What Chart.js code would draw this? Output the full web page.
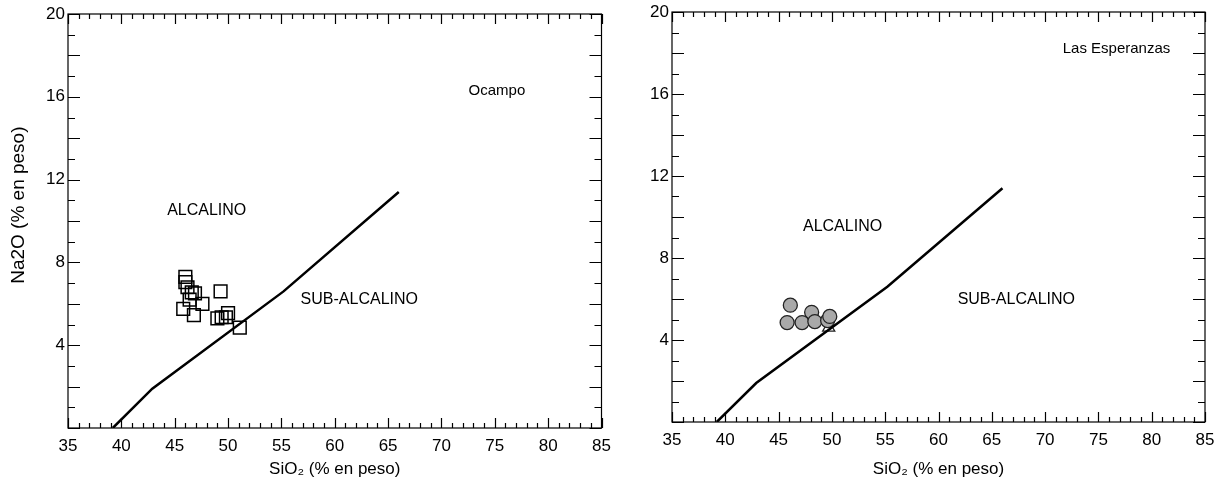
<!DOCTYPE html>
<html>
<head>
<meta charset="utf-8">
<script src="https://cdn.jsdelivr.net/npm/chart.js@4.4.0/dist/chart.umd.min.js"></script>
<style>
  html,body{margin:0;padding:0;background:#fff;}
  #wrap{position:relative;width:1223px;height:480px;}
  .c{position:absolute;top:0;height:480px;}
</style>
</head>
<body>
<div id="wrap">
  <div class="c" style="left:0;width:612px;"><canvas id="left"></canvas></div>
  <div class="c" style="left:612px;width:611px;"><canvas id="right"></canvas></div>
</div>
<script>
// ---- data ----
const boundarySiO2 = [39.2, 42.9, 55.2, 66.0];
const boundaryNa2O = [0.0, 1.9, 6.6, 11.4];

const ocampoSiO2 = [46.0, 46.0, 46.2, 46.6, 49.3, 46.9, 46.4, 47.6, 45.8, 46.8, 50.0, 49.0, 49.4, 49.8, 51.1];
const ocampoNa2O = [7.3, 7.05, 6.8, 6.55, 6.6, 6.5, 6.2, 6.0, 5.75, 5.45, 5.55, 5.3, 5.35, 5.35, 4.85];

const esperanzasSiO2 = [46.1, 48.1, 45.8, 47.2, 48.4, 49.6, 49.8];
const esperanzasNa2O = [5.7, 5.35, 4.85, 4.85, 4.9, 4.95, 5.15];
const esperanzasTriSiO2 = [49.7];
const esperanzasTriNa2O = [4.6];

const xTickValues = [35, 40, 45, 50, 55, 60, 65, 70, 75, 80, 85];
const yTickValues = [4, 8, 12, 16, 20];

const FONT = '"Liberation Sans", Arial, sans-serif';
const pts = (xs, ys) => xs.map((x, i) => ({x: x, y: ys[i]}));

const boxTicks = {
  id: 'boxTicks',
  afterDatasetsDraw(chart) {
    const {ctx, chartArea: a, scales: {x, y}} = chart;
    ctx.save();
    ctx.strokeStyle = '#000';
    ctx.lineWidth = 1.2;
    ctx.strokeRect(a.left, a.top, a.right - a.left, a.bottom - a.top);
    ctx.beginPath();
    for (let v = 35; v <= 85; v++) {
      const px = Math.round(x.getPixelForValue(v)) + 0.5;
      const len = v % 5 === 0 ? 10 : 5;
      ctx.moveTo(px, a.bottom); ctx.lineTo(px, a.bottom - len);
      ctx.moveTo(px, a.top); ctx.lineTo(px, a.top + len);
    }
    for (let v = 0; v <= 20; v++) {
      const py = Math.round(y.getPixelForValue(v)) + 0.5;
      const len = v % 2 === 0 ? 12 : 7;
      ctx.moveTo(a.left, py); ctx.lineTo(a.left + len, py);
      ctx.moveTo(a.right, py); ctx.lineTo(a.right - len, py);
    }
    ctx.stroke();
    // text annotations
    const notes = chart.options.plugins.boxTicks.notes || [];
    ctx.fillStyle = '#000';
    ctx.textAlign = 'center';
    ctx.textBaseline = 'middle';
    notes.forEach(n => {
      ctx.font = n.size + 'px ' + FONT;
      ctx.fillText(n.text, x.getPixelForValue(n.x), y.getPixelForValue(n.y));
    });
    ctx.restore();
  }
};

function makeChart(id, datasets, opts) {
  return new Chart(document.getElementById(id), {
    type: 'scatter',
    data: {datasets: datasets},
    options: {
      responsive: true,
      maintainAspectRatio: false,
      animation: false,
      layout: {padding: {top: opts.top, right: opts.right, left: 0, bottom: 0}},
      plugins: {legend: {display: false}, tooltip: {enabled: false}, boxTicks: {notes: opts.notes}},
      scales: {
        x: {
          type: 'linear', min: 35, max: 85,
          afterBuildTicks: s => { s.ticks = xTickValues.map(v => ({value: v})); },
          ticks: {font: {family: FONT, size: 17}, color: '#000', padding: opts.xPad, maxRotation: 0, autoSkip: false},
          grid: {display: false, drawTicks: false},
          border: {display: false},
          title: {display: true, text: 'SiO₂ (% en peso)', font: {family: FONT, size: 17}, color: '#000', padding: {top: 0, bottom: 0}},
          afterFit: s => { s.height = opts.xh; s.paddingLeft = 0; s.paddingRight = 0; }
        },
        y: {
          type: 'linear', min: 0, max: 20,
          afterBuildTicks: s => { s.ticks = yTickValues.map(v => ({value: v})); },
          ticks: {font: {family: FONT, size: 17}, color: '#000', padding: 3},
          grid: {display: false, drawTicks: false},
          border: {display: false},
          title: {display: opts.yTitle, text: '\u00a0\u00a0\u00a0\u00a0\u00a0\u00a0Na2O (% en peso)', font: {family: FONT, size: 19}, color: '#000', padding: {top: 7, bottom: 4}},
          afterFit: s => { s.width = opts.yw; s.paddingTop = 0; s.paddingBottom = 0; }
        }
      }
    },
    plugins: [boxTicks]
  });
}

const lineDs = {
  type: 'line', data: pts(boundarySiO2, boundaryNa2O), showLine: true,
  borderColor: '#000', borderWidth: 2.5, pointRadius: 0, fill: false, tension: 0
};

makeChart('left', [
  lineDs,
  {data: pts(ocampoSiO2, ocampoNa2O), pointStyle: 'rect', pointRadius: 9,
   backgroundColor: 'rgba(255,255,255,0)', borderColor: '#000', borderWidth: 1.5}
], {top: 14, right: 10, xh: 52, yw: 68, yTitle: true, xPad: 8,
  notes: [
    {text: 'Ocampo', x: 75.2, y: 16.3, size: 15},
    {text: 'ALCALINO', x: 48.0, y: 10.5, size: 16},
    {text: 'SUB-ALCALINO', x: 62.3, y: 6.2, size: 16}
  ]});

makeChart('right', [
  lineDs,
  {data: pts(esperanzasSiO2, esperanzasNa2O), pointStyle: 'circle', pointRadius: 7,
   backgroundColor: '#a9a9a9', borderColor: '#222', borderWidth: 1.3},
  {data: pts(esperanzasTriSiO2, esperanzasTriNa2O), pointStyle: 'triangle', pointRadius: 7,
   backgroundColor: '#fff', borderColor: '#222', borderWidth: 1.3}
], {top: 12, right: 18, xh: 58, yw: 60, yTitle: false, xPad: 8,
  notes: [
    {text: 'Las Esperanzas', x: 76.7, y: 18.2, size: 15},
    {text: 'ALCALINO', x: 51.0, y: 9.55, size: 16},
    {text: 'SUB-ALCALINO', x: 67.3, y: 5.95, size: 16}
  ]});
</script>
</body>
</html>
